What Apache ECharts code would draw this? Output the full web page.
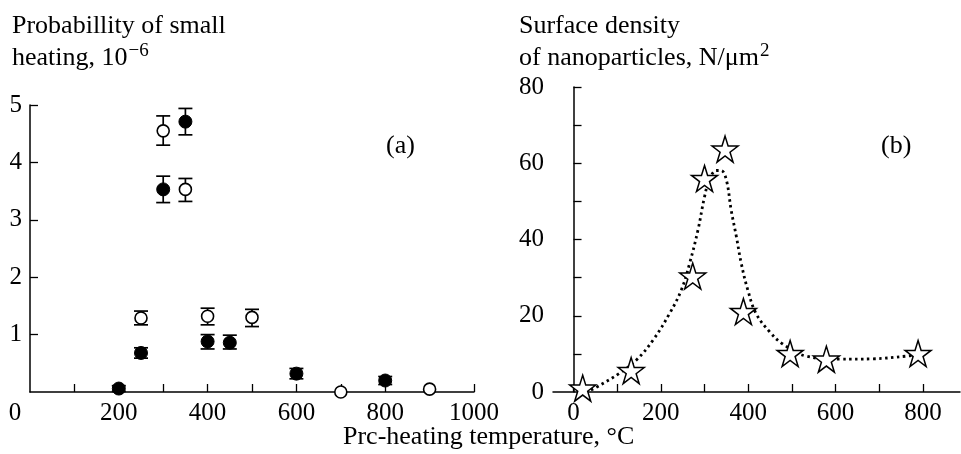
<!DOCTYPE html>
<html>
<head>
<meta charset="utf-8">
<script src="https://cdn.jsdelivr.net/npm/echarts@6/dist/echarts.min.js"></script>
<style>
  html, body { margin: 0; padding: 0; background: #fff; }
  #chart { width: 961px; height: 454px; }
</style>
</head>
<body>
<div id="chart"></div>
<script>
// (a) probability of small heating, 10^-6 : [temperature, value]
const filledPoints = [[200, 0.06], [250, 0.68], [300, 3.53], [350, 4.71], [400, 0.88], [450, 0.86], [600, 0.32], [800, 0.20]];
const filledErrors = [[200, 0.01, 0.11], [250, 0.59, 0.77], [300, 3.30, 3.76], [350, 4.48, 4.94], [400, 0.75, 1.00], [450, 0.75, 0.99], [600, 0.23, 0.41], [800, 0.13, 0.27]];
const openPoints = [[250, 1.29], [300, 4.55], [350, 3.53], [400, 1.32], [500, 1.30], [700, 0.0], [900, 0.05]];
const openErrors = [[250, 1.17, 1.41], [300, 4.30, 4.81], [350, 3.32, 3.72], [400, 1.17, 1.46], [500, 1.14, 1.44]];

// (b) surface density of nanoparticles, N/um^2
const starPoints = [[21, 1.0], [132, 5.6], [273, 30.4], [300, 56.0], [347, 63.7], [389, 21.1], [496, 10.1], [579, 8.6], [789, 10.1]];
// dotted guide curve
const curvePoints = [[40, 0.5], [52, 1.2], [105, 4.9], [144, 8.4], [182, 13.6], [220, 20.6], [247, 26.8], [266, 33.8], [285, 42.5],
  [300, 51.2], [311, 55.6], [327, 58.1], [338, 58.1], [350, 55.6], [361, 47.7], [373, 40.7], [384, 33.8], [399, 26.8],
  [418, 20.6], [449, 15.8], [479, 12.6], [533, 9.4], [609, 8.6], [686, 8.7], [762, 9.4], [785, 9.7]];

const leftXTicks = [100, 200, 300, 400, 500, 600, 700, 800, 900, 1000];
const leftXLabels = [0, 200, 400, 600, 800, 1000];
const leftYTicks = [1, 2, 3, 4, 5];
const rightXTicks = [0, 100, 200, 300, 400, 500, 600, 700, 800];
const rightXLabels = [0, 200, 400, 600, 800];
const rightYTicks = [10, 20, 30, 40, 50, 60, 70, 80];
const rightYLabels = [0, 20, 40, 60, 80];

const FONT = '"Liberation Serif", "DejaVu Serif", serif';
const STAR = 'path://M50 0 L61.2 34.5 L97.6 34.5 L68.2 55.9 L79.4 90.5 L50 69.1 L20.6 90.5 L31.8 55.9 L2.4 34.5 L38.8 34.5 Z';

const chart = echarts.init(document.getElementById('chart'), null, { renderer: 'canvas' });

const axisCommon = {
  axisLine: { lineStyle: { color: '#000', width: 1.5 } },
  axisTick: { inside: true, length: 8, lineStyle: { color: '#000', width: 1.3 } },
  axisLabel: { color: '#000', fontSize: 25, fontFamily: FONT },
  splitLine: { show: false },
};

// superscript style for the axis titles
const supStyle = { fontSize: 19, fontFamily: FONT, fill: '#000', verticalAlign: 'top', padding: [0, 0, 12, 1] };

function errorBars(data, xi, yi) {
  return {
    type: 'custom',
    xAxisIndex: xi,
    yAxisIndex: yi,
    z: 2,
    silent: true,
    data: data,
    renderItem: function (params, api) {
      const lo = api.coord([api.value(0), api.value(1)]);
      const hi = api.coord([api.value(0), api.value(2)]);
      const w = 7;
      const style = { stroke: '#000', lineWidth: 1.7 };
      return {
        type: 'group',
        children: [
          { type: 'line', shape: { x1: lo[0], y1: lo[1], x2: hi[0], y2: hi[1] }, style: style },
          { type: 'line', shape: { x1: lo[0] - w, y1: lo[1], x2: lo[0] + w, y2: lo[1] }, style: style },
          { type: 'line', shape: { x1: hi[0] - w, y1: hi[1], x2: hi[0] + w, y2: hi[1] }, style: style },
        ],
      };
    },
  };
}

const option = {
  animation: false,
  backgroundColor: '#fff',
  grid: [
    { left: 30, top: 105, width: 444, height: 287 },
    { left: 553, top: 87, width: 407, height: 305 },
  ],
  xAxis: [
    {
      ...axisCommon,
      gridIndex: 0, type: 'value', min: 0, max: 1000,
      axisTick: { ...axisCommon.axisTick, customValues: leftXTicks },
      axisLabel: {
        ...axisCommon.axisLabel, margin: 9, customValues: leftXLabels,
        formatter: (v) => (v === 0 ? '{z|0}' : String(v)),
        rich: { z: { fontSize: 25, fontFamily: FONT, color: '#000', padding: [0, 30, 0, 0] } },
      },
    },
    {
      ...axisCommon,
      gridIndex: 1, type: 'value', min: -47, max: 885,
      axisTick: { ...axisCommon.axisTick, customValues: rightXTicks },
      axisLabel: { ...axisCommon.axisLabel, margin: 9, customValues: rightXLabels },
    },
  ],
  yAxis: [
    {
      ...axisCommon,
      gridIndex: 0, type: 'value', min: 0, max: 5,
      axisTick: { ...axisCommon.axisTick, customValues: leftYTicks },
      axisLabel: { ...axisCommon.axisLabel, margin: 8, customValues: leftYTicks },
    },
    {
      ...axisCommon,
      gridIndex: 1, type: 'value', min: 0, max: 80,
      axisTick: { ...axisCommon.axisTick, customValues: rightYTicks },
      axisLabel: { ...axisCommon.axisLabel, margin: 9, customValues: rightYLabels },
    },
  ],
  graphic: [
    {
      type: 'text', left: 12, top: 10,
      style: {
        text: 'Probabillity of small\nheating, 10{sup|−6}',
        font: '26px ' + FONT, fill: '#000', lineHeight: 32,
        rich: { sup: supStyle },
      },
    },
    {
      type: 'text', left: 519, top: 10,
      style: {
        text: 'Surface density\nof nanoparticles, N/μm{sup|2}',
        font: '26px ' + FONT, fill: '#000', lineHeight: 32,
        rich: { sup: supStyle },
      },
    },
    { type: 'text', left: 386, top: 133, style: { text: '(a)', font: '26px ' + FONT, fill: '#000' } },
    { type: 'text', left: 881, top: 133, style: { text: '(b)', font: '26px ' + FONT, fill: '#000' } },
    { type: 'text', left: 343, top: 424, style: { text: 'Prc-heating temperature, °C', font: '26px ' + FONT, fill: '#000' } },
  ],
  series: [
    errorBars(filledErrors, 0, 0),
    errorBars(openErrors, 0, 0),
    {
      type: 'scatter', xAxisIndex: 0, yAxisIndex: 0, z: 3,
      data: filledPoints, symbol: 'circle', symbolSize: 13,
      itemStyle: { color: '#000', borderColor: '#000', borderWidth: 1, opacity: 1 },
    },
    {
      type: 'scatter', xAxisIndex: 0, yAxisIndex: 0, z: 3,
      data: openPoints, symbol: 'circle', symbolSize: 12,
      itemStyle: { color: '#fff', borderColor: '#000', borderWidth: 1.6, opacity: 1 },
    },
    {
      type: 'line', xAxisIndex: 1, yAxisIndex: 1, z: 2,
      data: curvePoints, smooth: 0.4, showSymbol: false, symbol: 'none',
      lineStyle: { color: '#000', width: 2.8, type: [2.5, 3.5] },
    },
    {
      type: 'scatter', xAxisIndex: 1, yAxisIndex: 1, z: 3,
      data: starPoints, symbol: STAR, symbolSize: 26,
      itemStyle: { color: '#fff', borderColor: '#000', borderWidth: 1.5, opacity: 1 },
    },
  ],
};

chart.setOption(option);
</script>
</body>
</html>
